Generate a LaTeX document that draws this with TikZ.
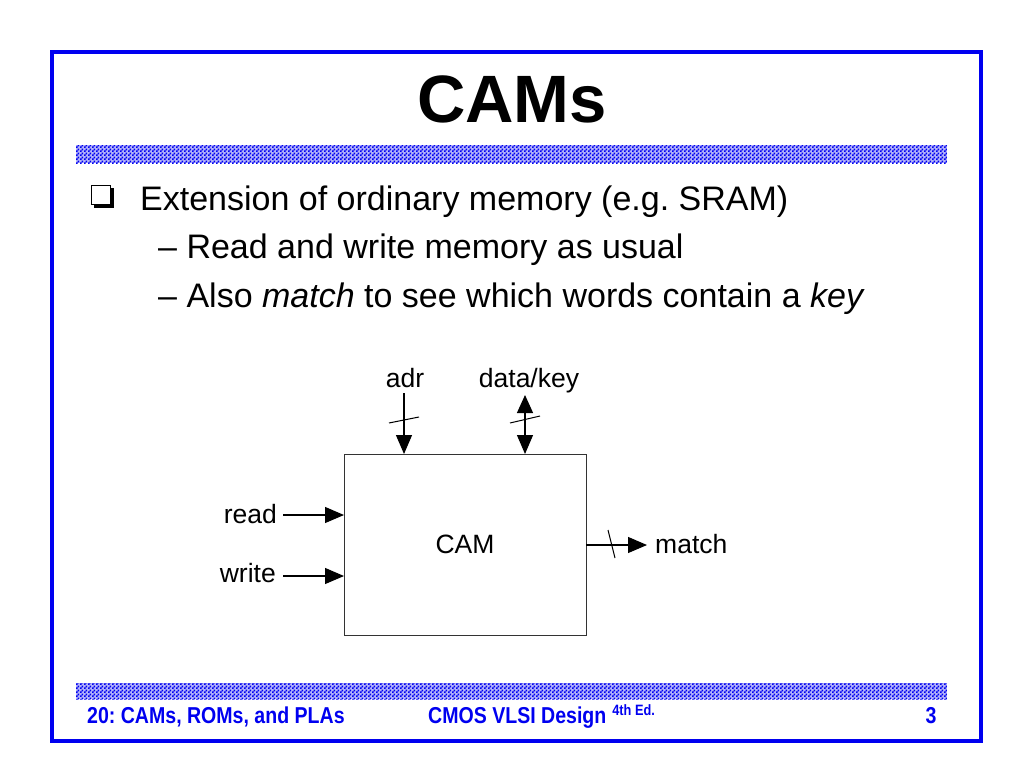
\documentclass[tikz,border=0pt]{standalone}
\usepackage{fontspec}
\setmainfont{Liberation Sans}
\newfontfamily\footfont[FakeStretch=0.85]{Liberation Sans}
\usetikzlibrary{arrows.meta,patterns.meta}
\pgfdeclarepattern{name=checker, type=uncolored, bottom left={\pgfpoint{0pt}{0pt}}, top right={\pgfpoint{4pt}{4pt}}, tile size={\pgfpoint{4pt}{4pt}}, code={\pgfpathrectangle{\pgfpoint{0pt}{0pt}}{\pgfpoint{2pt}{2pt}}\pgfpathrectangle{\pgfpoint{2pt}{2pt}}{\pgfpoint{2pt}{2pt}}\pgfusepath{fill}}}
\definecolor{frameblue}{RGB}{0,0,240}
\tikzset{
  txt/.style={inner sep=0pt, font=\fontsize{34}{40}\selectfont},
  lbl/.style={inner sep=0pt, font=\fontsize{26.5}{30}\selectfont},
  foot/.style={inner sep=0pt, text=frameblue, font=\footfont\fontsize{23}{26}\selectfont\bfseries},
  barbase/.style={fill=frameblue!30},
  bar/.style={pattern={checker}, pattern color=frameblue},
  wire/.style={line width=1.2pt, -{Triangle[length=19pt,width=16pt]}},
  dwire/.style={line width=1.2pt, {Triangle[length=18pt,width=16pt]}-{Triangle[length=19pt,width=16pt]}},
  slash/.style={line width=1pt},
}
\begin{document}
\frenchspacing
\begin{tikzpicture}[x=1pt,y=-1pt]
\useasboundingbox (0,0) rectangle (1024,768);
\fill[white] (0,0) rectangle (1024,768);
% frame
\draw[frameblue, line width=3.5pt] (52,52) rectangle (981,741);
% bars
\fill[barbase] (76,145) rectangle (947,163);
\fill[bar] (76,145) rectangle (947,163);
\fill[barbase] (76,683) rectangle (947,699);
\fill[bar] (76,683) rectangle (947,699);
% title
\node[inner sep=0pt, anchor=base, font=\fontsize{67}{70}\selectfont\bfseries] (title) at (512,122) {CAMs};
% bullet
\fill[black] (94,188) rectangle (114,208);
\draw[black, fill=white, line width=1.2pt] (91.5,185.5) rectangle (110.5,204.5);
\node[txt, anchor=base west] (l1) at (140,210) {Extension of ordinary memory (e.g. SRAM)};
\node[txt, anchor=base west] (l2) at (158,258) {– Read and write memory as usual};
\node[txt, anchor=base west] (l3) at (158,307) {– Also \textit{match} to see which words contain a \textit{key}};
% CAM box
\node[draw=black!80, line width=1.3pt, minimum width=242pt, minimum height=181pt, inner sep=0pt, anchor=north west] (cam) at (344,454) {};
\node[lbl, anchor=base] (camt) at (465,553) {CAM};
% labels
\node[lbl, anchor=base] (adr) at (405,387) {adr};
\node[lbl, anchor=base] (dk) at (529,387) {data/key};
\node[lbl, anchor=base east] (rd) at (277,523) {read};
\node[lbl, anchor=base east] (wr) at (276,582) {write};
\node[lbl, anchor=base west] (mt) at (655,553) {match};
% coordinates
\coordinate (adrA) at (404,393);
\coordinate (adrB) at (404,454);
\coordinate (dkA) at (525,395);
\coordinate (dkB) at (525,454);
\coordinate (rdA) at (283,515);
\coordinate (rdB) at (344,515);
\coordinate (wrA) at (283,576);
\coordinate (wrB) at (344,576);
\coordinate (mtA) at (586,545);
\coordinate (mtB) at (647,545);
% arrows
\draw[wire] (adrA) -- (adrB);
\draw[dwire] (dkA) -- (dkB);
\draw[wire] (rdA) -- (rdB);
\draw[wire] (wrA) -- (wrB);
\draw[wire] (mtA) -- (mtB);
% bus slashes
\draw[slash] (389,423) -- (419,417);
\draw[slash] (510,423) -- (540,416);
\draw[slash] (608,530) -- (615,558);
% footer
\node[foot, anchor=base west] (f1) at (87,723) {20: CAMs, ROMs, and PLAs};
\node[foot, anchor=base west] (f2) at (428,723) {CMOS VLSI Design\hspace{6pt}\raisebox{8pt}{\fontsize{15}{17}\selectfont 4th Ed.}};
\node[foot, anchor=base] (f3) at (931,723) {3};
\end{tikzpicture}
\end{document}
